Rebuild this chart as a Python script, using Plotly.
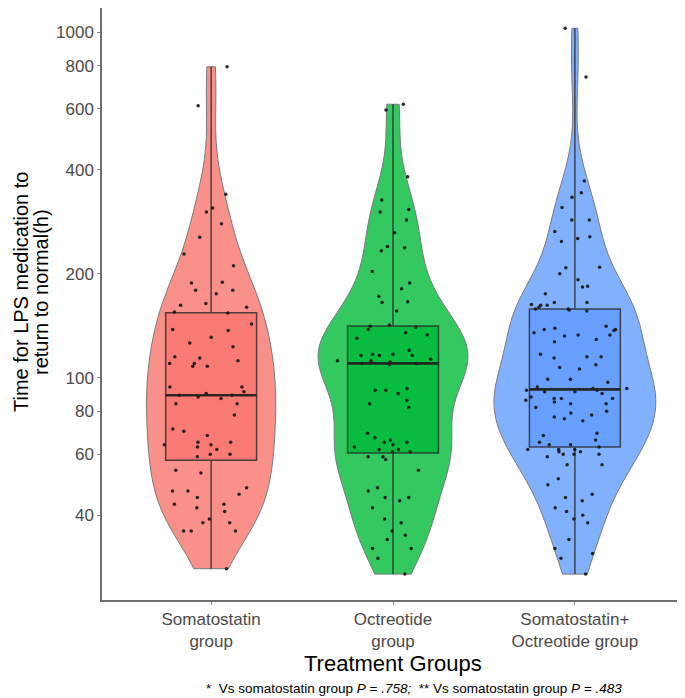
import numpy as np
import plotly.graph_objects as go

categories = ["Somatostatin<br>group", "Octreotide<br>group", "Somatostatin+<br>Octreotide group"]

somatostatin = [795, 613, 340, 310, 302, 279, 255, 228, 211, 189,
                188, 179, 179, 175, 164, 162, 160, 155, 154, 143,
                138, 137, 131, 126, 123, 108, 108, 110, 110, 112,
                114, 115, 94, 94, 91, 90, 88, 89, 89, 87,
                84, 84, 78, 70, 71, 68, 65, 64, 63, 62,
                65, 64, 60, 59, 60, 53, 54, 48, 47, 47,
                46, 45, 43, 43, 42, 41, 39, 38, 38, 36,
                36, 36, 28]

octreotide = [619, 596, 382, 327, 307, 302, 286, 263, 240, 238,
              233, 203, 188, 181, 172, 166, 165, 156, 142, 138,
              141, 135, 140, 133, 130, 120, 117, 117, 116, 116,
              116, 113, 109, 92, 93, 92, 90, 86, 84, 82,
              69, 67, 66, 65, 65, 64, 62, 61, 61, 63,
              62, 59, 59, 58, 54, 47, 45, 48, 45, 44,
              42, 39, 38, 36, 35, 34, 32, 32, 30, 27,
              110, 110, 111, 111, 112, 112, 110]

combined = [1027, 742, 371, 343, 333, 311, 286, 286, 265, 248,
            253, 256, 208, 209, 200, 192, 183, 184, 175,
            165, 165, 162, 158, 158, 157, 156, 163, 162, 160,
            139, 137, 133, 132, 133, 141, 138, 138, 135, 129, 127,
            117, 114, 115, 115, 107, 106, 109, 99, 97, 99,
            91, 91, 92, 93, 92, 94, 93, 90,
            88, 87, 84, 82, 87, 86, 87, 84, 85,
            78, 79, 76, 75, 77, 80, 68, 69, 65, 66,
            64, 64, 63, 62, 62, 61, 60, 56, 60, 59, 56, 61, 62, 60,
            51, 49, 46, 45, 44, 42, 41, 40, 39, 38,
            34, 32, 31, 30, 27]

groups = [somatostatin, octreotide, combined]
y_tick_values = [40, 60, 80, 100, 200, 400, 600, 800, 1000]
y_title_lines = ["Time for LPS medication to", "return to normal(h)"]
x_title = "Treatment Groups"
footnote = ("*  Vs somatostatin group <i>P</i> = <i>.758;</i>  "
            "** Vs somatostatin group <i>P</i> = <i>.483</i>")

base_colors = [(248, 118, 109), (0, 186, 56), (97, 156, 255)]
violin_widths = [0.71, 0.82, 0.89]
BOX_W = 0.5

FONT = "Liberation Sans, Arial, sans-serif"

W, H = 677, 690
L, R, T, B = 94, 1, 0, 98
PW, PH = W - L - R, H - T - B


def nrd0(v):
    v = np.asarray(v, dtype=float)
    sd = v.std(ddof=1)
    iqr = np.subtract(*np.percentile(v, [75, 25]))
    lo = min(sd, iqr / 1.34)
    return 0.9 * lo * len(v) ** (-0.2)


fig = go.Figure()
shapes = []
for i, (cat, vals, col, vw) in enumerate(zip(categories, groups, base_colors, violin_widths)):
    ly = np.log10(np.asarray(vals, dtype=float))
    r, g, b = col
    fig.add_trace(go.Violin(
        x=[cat] * len(ly), y=ly, width=vw, scalemode="width", spanmode="hard",
        bandwidth=nrd0(ly), points=False, box_visible=False, meanline_visible=False,
        fillcolor=f"rgba({r},{g},{b},0.8)", line=dict(color="#7a7a7a", width=1),
        hoverinfo="skip", showlegend=False,
    ))
    fig.add_trace(go.Box(
        x=[cat] * len(ly), y=ly, width=BOX_W, boxpoints=False, whiskerwidth=0,
        fillcolor=f"rgba({r},{g},{b},0.85)", line=dict(color="rgba(40,40,40,0.8)", width=1.5),
        hoverinfo="skip", showlegend=False,
    ))
    med = float(np.median(ly))
    shapes.append(dict(type="line", xref="x", yref="y", x0=i - BOX_W / 2, x1=i + BOX_W / 2,
                       y0=med, y1=med, line=dict(color="rgba(30,30,30,0.85)", width=2.6),
                       layer="above"))
    fig.add_trace(go.Box(
        x=[cat] * len(ly), y=ly, width=0.62, boxpoints="all", jitter=1, pointpos=0,
        fillcolor="rgba(0,0,0,0)", line=dict(color="rgba(0,0,0,0)", width=0),
        marker=dict(color="rgba(20,20,20,0.9)", size=3.5), whiskerwidth=0,
        hoverinfo="skip", showlegend=False,
    ))


def px(xf):
    return (xf - L) / PW


def py(yf):
    return (PH - (yf - T)) / PH


annotations = [
    dict(xref="paper", yref="paper", x=px(13), y=py(292 - 8), xanchor="center", yanchor="middle",
         textangle=-90, showarrow=False, text=y_title_lines[0],
         font=dict(size=20, color="black", family=FONT)),
    dict(xref="paper", yref="paper", x=px(33), y=py(292 - 8), xanchor="center", yanchor="middle",
         textangle=-90, showarrow=False, text=y_title_lines[1],
         font=dict(size=20, color="black", family=FONT)),
    dict(xref="paper", yref="paper", x=px(393 - 8), y=py(663 - 8), xanchor="center", yanchor="middle",
         showarrow=False, text=x_title, font=dict(size=22, color="black", family=FONT)),
    dict(xref="paper", yref="paper", x=px(414 - 8), y=py(688 - 8), xanchor="center", yanchor="middle",
         showarrow=False, text=footnote, font=dict(size=13.5, color="black", family=FONT)),
]

fig.update_layout(
    width=W, height=H,
    margin=dict(l=L, r=R, t=T, b=B),
    paper_bgcolor="white", plot_bgcolor="white",
    showlegend=False, boxmode="overlay", violinmode="overlay",
    font=dict(family=FONT),
    xaxis=dict(
        range=[-0.6, 2.6], showline=True, linecolor="#6f6f6f", linewidth=1.5,
        ticks="outside", ticklen=3, tickcolor="#8a8a8a", showgrid=False, zeroline=False,
        tickfont=dict(size=17, color="#4a4a4a", family=FONT),
    ),
    yaxis=dict(
        range=[1.3564, 3.0704], showline=True, linecolor="#6f6f6f", linewidth=1.5,
        tickvals=np.log10(y_tick_values).tolist(), ticktext=[str(v) for v in y_tick_values],
        ticks="outside", ticklen=3, tickcolor="#8a8a8a", showgrid=False, zeroline=False,
        tickfont=dict(size=17, color="#4a4a4a", family=FONT),
    ),
    shapes=shapes,
    annotations=annotations,
)

fig.write_html("out.html")
